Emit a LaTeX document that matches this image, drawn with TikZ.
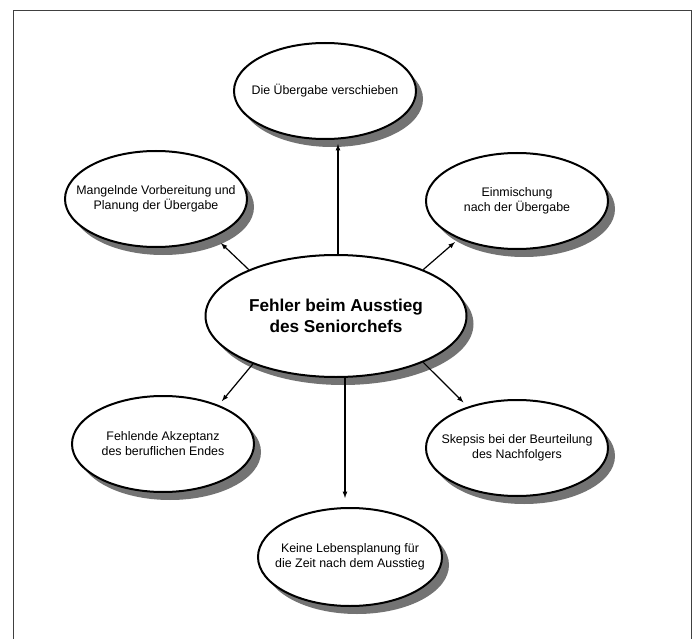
\documentclass[tikz,border=0pt]{standalone}
\usepackage{fontspec}
\setmainfont{Liberation Sans}
\usepackage{tikz}
\usetikzlibrary{positioning,shapes,shadows,arrows}
\tikzstyle{fehler}=[ellipse, draw=black, line width=2pt, fill=white, inner sep=-20pt,
        drop shadow={shadow xshift=7pt, shadow yshift=-8pt, fill=black!55, opacity=1},
        minimum width=182pt, minimum height=96pt, align=center,
        font=\fontsize{12.4}{15}\selectfont]
\tikzstyle{kern}=[fehler, minimum width=261pt, minimum height=122pt,
        font=\fontsize{17.2}{21}\selectfont\bfseries]
\tikzstyle{line}=[line width=1.2pt,->,>=latex]

\begin{document}
\begin{tikzpicture}[x=1pt, y=-1pt]
\useasboundingbox (0,0) rectangle (696,639);
\draw[black!75, line width=1pt] (13,639) |- (691,11) -- (691,639);

\node (Seniorchef) [kern] at (336,316) {Fehler beim Ausstieg\\des Seniorchefs};
\node (Verschieben) [fehler] at (325,91) {Die Übergabe verschieben};
\node (Vorbereitung) [fehler] at (156,199) {Mangelnde Vorbereitung und\\Planung der Übergabe};
\node (Einmischung) [fehler] at (517,201) {Einmischung\\nach der Übergabe};
\node (Akzeptanz) [fehler] at (163,444) {Fehlende Akzeptanz\\des beruflichen Endes};
\node (Beurteilung) [fehler] at (517,448) {Skepsis bei der Beurteilung\\des Nachfolgers};
\node (Lebensplanung) [fehler, minimum width=184pt, minimum height=98pt] at (350,557) {Keine Lebensplanung für\\die Zeit nach dem Ausstieg};

% draw lines
\draw[line, shorten >=4pt] ([xshift=2pt]Seniorchef.north) -- ([xshift=2pt]Seniorchef.north |- Verschieben.south);
\draw[line, shorten >=9pt] (Seniorchef.152) -- (Vorbereitung.-33);
\draw[line, shorten >=5pt] (Seniorchef.28) -- (Einmischung.213);
\draw[line, shorten >=5pt] (Seniorchef.210) -- (Akzeptanz.35);
\draw[line, shorten >=6pt] (Seniorchef.-28) -- (Beurteilung.140);
\draw[line, shorten >=9pt] ([xshift=9pt]Seniorchef.south) -- ([xshift=-5pt]Lebensplanung.north);

\end{tikzpicture}
\end{document}
